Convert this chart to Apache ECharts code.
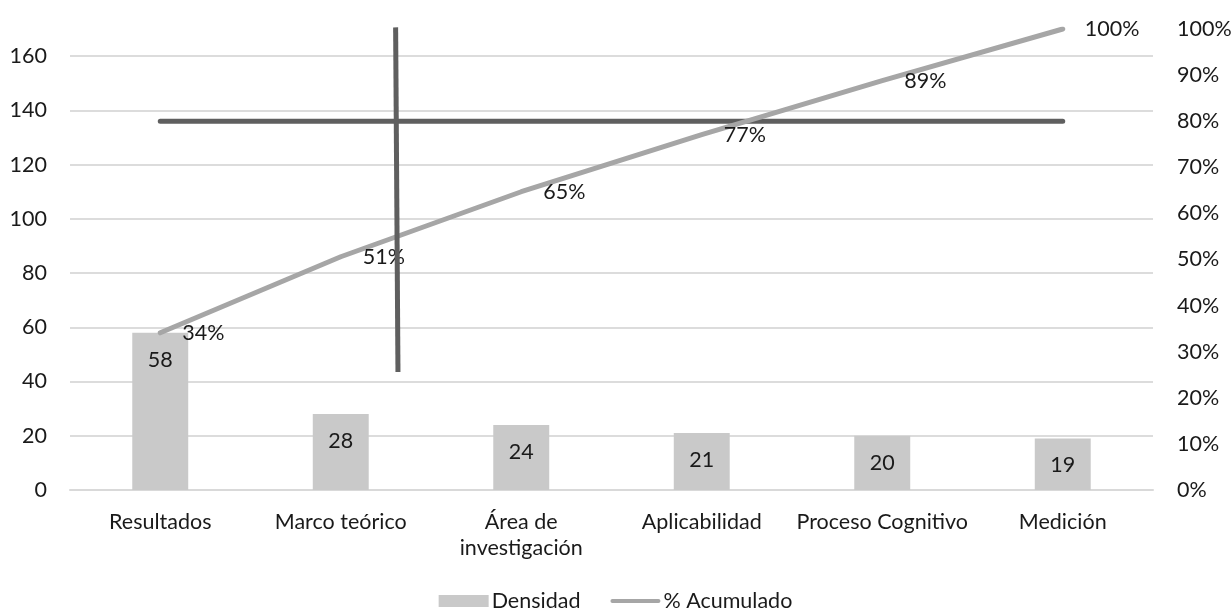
<!DOCTYPE html>
<html>
<head>
<meta charset="utf-8">
<script src="https://cdn.jsdelivr.net/npm/echarts@6/dist/echarts.min.js"></script>
<style>
  html, body { margin: 0; padding: 0; background: #fff; }
  #chart { width: 1231px; height: 610px; }
</style>
</head>
<body>
<div id="chart"></div>
<script>
// Pareto data: category counts and cumulative share (%)
const categorias = ['Resultados', 'Marco teórico', 'Área de\ninvestigación', 'Aplicabilidad', 'Proceso Cognitivo', 'Medición'];
const densidad = [58, 28, 24, 21, 20, 19];
const acumulado = [34.1, 50.6, 64.7, 77.1, 88.8, 100];
// 80 % reference (right axis)
const corte80 = [80, 80, 80, 80, 80, 80];
// Vertical cut marker: [category position, left-axis value]
const corteVertical = [[1.304, 170.6], [1.317, 43.5]];
const ticksIzq = { min: 0, max: 170, interval: 20 };
const ticksDer = { min: 0, max: 100, interval: 10 };

const FONT = 'Lato';
const FS = 21.5;
const TXT = '#1a1a1a';

const chart = echarts.init(document.getElementById('chart'), null, { renderer: 'canvas' });
chart.setOption({
  animation: false,
  textStyle: { fontFamily: FONT, color: TXT },
  grid: { left: 70, right: 78, top: 29, bottom: 120, containLabel: false, outerBoundsMode: 'none' },
  legend: {
    data: [
      { name: 'Densidad', icon: 'rect' },
      { name: '% Acumulado', icon: 'path://M2,0 L48,0 A2,2 0 0 1 48,4 L2,4 A2,2 0 0 1 2,0 Z' }
    ],
    left: 'center',
    top: 585,
    itemWidth: 50,
    itemHeight: 12,
    itemGap: 30,
    textStyle: { fontFamily: FONT, fontSize: FS, color: TXT, padding: [0, 0, 0, -2] }
  },
  xAxis: [
    {
      type: 'category',
      data: categorias,
      axisLine: { show: true, lineStyle: { color: '#d9d9d9', width: 2 } },
      axisTick: { show: false },
      axisLabel: { fontFamily: FONT, fontSize: FS, color: TXT, margin: 19, lineHeight: 26, interval: 0 }
    },
    {
      type: 'value',
      min: -0.5,
      max: 5.5,
      show: false
    }
  ],
  yAxis: [
    {
      type: 'value',
      min: ticksIzq.min,
      max: ticksIzq.max,
      interval: ticksIzq.interval,
      axisLine: { show: false },
      axisTick: { show: false },
      axisLabel: { fontFamily: FONT, fontSize: FS, color: TXT, margin: 23, showMaxLabel: false },
      splitLine: { show: true, showMaxLine: false, lineStyle: { color: '#dcdcdc', width: 2 } }
    },
    {
      type: 'value',
      min: ticksDer.min,
      max: ticksDer.max,
      interval: ticksDer.interval,
      position: 'right',
      axisLine: { show: false },
      axisTick: { show: false },
      axisLabel: { fontFamily: FONT, fontSize: FS, color: TXT, margin: 24, formatter: '{value}%' },
      splitLine: { show: false }
    }
  ],
  series: [
    {
      name: 'Densidad',
      type: 'bar',
      data: densidad,
      barWidth: '31%',
      itemStyle: { color: '#c9c9c9' },
      label: {
        show: true,
        position: 'insideTop',
        distance: 16,
        fontFamily: FONT,
        fontSize: FS,
        color: TXT
      }
    },
    {
      name: 'corte80',
      type: 'line',
      yAxisIndex: 1,
      data: corte80,
      symbol: 'none',
      lineStyle: { color: '#5f5f5f', width: 5, cap: 'round' },
      silent: true,
      z: 3
    },
    {
      name: '% Acumulado',
      type: 'line',
      yAxisIndex: 1,
      data: acumulado,
      symbol: 'circle',
      symbolSize: 0.01,
      showSymbol: true,
      lineStyle: { color: '#a6a6a6', width: 5, cap: 'round' },
      itemStyle: { color: '#a6a6a6' },
      label: {
        show: true,
        position: 'right',
        distance: 22,
        fontFamily: FONT,
        fontSize: FS,
        color: TXT,
        formatter: p => Math.round(p.value) + '%'
      },
      z: 4
    },
    {
      name: 'corteVertical',
      type: 'line',
      xAxisIndex: 1,
      yAxisIndex: 0,
      data: corteVertical,
      symbol: 'none',
      clip: false,
      lineStyle: { color: '#5f5f5f', width: 5, cap: 'butt' },
      silent: true,
      z: 5
    }
  ]
});
</script>
</body>
</html>
